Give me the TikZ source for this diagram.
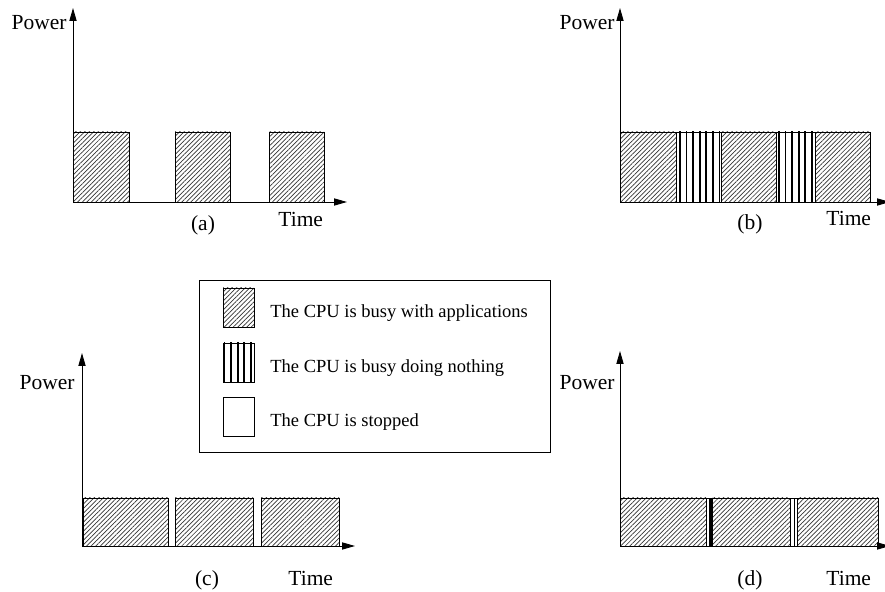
\documentclass[tikz,border=0pt]{standalone}
\usepackage{fontspec}
\setmainfont{Liberation Serif}
\usetikzlibrary{arrows.meta,patterns.meta}

\begin{document}
\begin{tikzpicture}[x=0.5pt, y=-0.5pt,
    axis/.style={-{Triangle[length=6.5pt,width=3.6pt]}, line width=0.45pt},
    busyapp/.style={draw=black, line width=0.4pt,
      pattern={Lines[angle=45,distance=1.6pt,line width=0.35pt]}, pattern color=black!80},
    busyidle/.style={draw=black, line width=0.4pt,
      pattern={Lines[angle=90,distance=3.3pt,line width=0.9pt]}, pattern color=black},
    stopped/.style={draw=black, line width=0.4pt, fill=white},
    lbl/.style={font=\fontsize{10.75}{13}\selectfont, inner sep=0pt},
    legtext/.style={font=\fontsize{9.25}{11}\selectfont, inner sep=0pt, anchor=base west}]

  \useasboundingbox (0,0) rectangle (885,592);

  % Panel (a): CPU runs, then stops
  \foreach \xa/\xb in {73/129, 175/230, 269/324}
    \draw[busyapp] (\xa,132) rectangle (\xb,202);
  \coordinate (a-o) at (73,202);
  \coordinate (a-y) at (73,8);
  \coordinate (a-x) at (347,202);
  \draw[axis] (a-o) -- (a-y);
  \draw[axis] (a-o) -- (a-x);
  \node[lbl, anchor=base east] (a-power) at (67,30) {Power};
  \node[lbl, anchor=base west] (a-time) at (278,227) {Time};
  \node[lbl, anchor=base] (a-tag) at (203,231) {(a)};

  % Panel (b): CPU idles between jobs
  \foreach \xa/\xb/\kind in {620/676/busyapp, 676/721/busyidle, 721/776/busyapp,
                             776/815/busyidle, 815/870/busyapp}
    \draw[\kind] (\xa,132) rectangle (\xb,202);
  \coordinate (b-o) at (620,202);
  \coordinate (b-y) at (620,8);
  \coordinate (b-x) at (890,202);
  \draw[axis] (b-o) -- (b-y);
  \draw[axis] (b-o) -- (b-x);
  \node[lbl, anchor=base east] (b-power) at (615,30) {Power};
  \node[lbl, anchor=base west] (b-time) at (826,226) {Time};
  \node[lbl, anchor=base] (b-tag) at (750,230) {(b)};

  % Panel (c): short stops
  \foreach \xa/\xb in {83/168, 175/253, 261/339}
    \draw[busyapp] (\xa,498) rectangle (\xb,546);
  \coordinate (c-o) at (82,546);
  \coordinate (c-y) at (82,353);
  \coordinate (c-x) at (355,546);
  \draw[axis] (c-o) -- (c-y);
  \draw[axis] (c-o) -- (c-x);
  \node[lbl, anchor=base east] (c-power) at (75,390) {Power};
  \node[lbl, anchor=base west] (c-time) at (288,586) {Time};
  \node[lbl, anchor=base] (c-tag) at (207,586) {(c)};

  % Panel (d): short stops and idling
  \foreach \xa/\xb/\kind in {620/706/busyapp, 706/709/stopped, 709/712/busyidle,
                             712/790/busyapp, 790/794/stopped, 794/797/busyidle,
                             797/878/busyapp}
    \draw[\kind] (\xa,498) rectangle (\xb,546);
  \fill (709,498) rectangle (712,546);
  \coordinate (d-o) at (620,546);
  \coordinate (d-y) at (620,351);
  \coordinate (d-x) at (890,546);
  \draw[axis] (d-o) -- (d-y);
  \draw[axis] (d-o) -- (d-x);
  \node[lbl, anchor=base east] (d-power) at (615,390) {Power};
  \node[lbl, anchor=base west] (d-time) at (826,586) {Time};
  \node[lbl, anchor=base] (d-tag) at (750,586) {(d)};

  % Legend
  \draw[line width=0.45pt] (199,280) rectangle (550,452);
  \foreach \yt/\kind/\txt [count=\i] in {288/busyapp/{The CPU is busy with applications},
                                         343/busyidle/{The CPU is busy doing nothing},
                                         397/stopped/{The CPU is stopped}} {
    \draw[\kind] (223,\yt) rectangle (254,\yt+39);
    \node[legtext] (leg-\i) at (270,\yt+30) {\txt};
  }

\end{tikzpicture}
\end{document}
